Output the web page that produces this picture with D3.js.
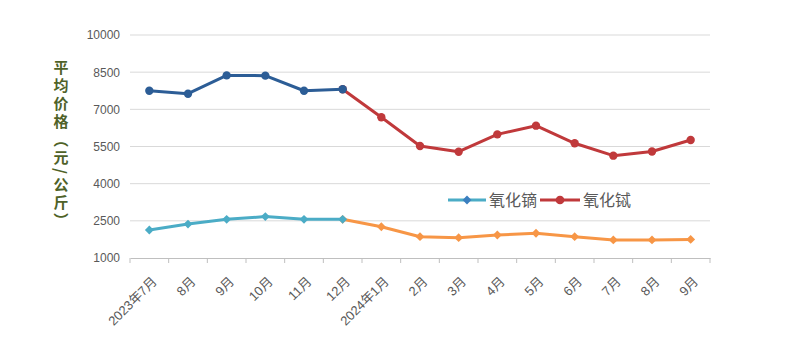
<!DOCTYPE html>
<html><head><meta charset="utf-8">
<script src="https://cdn.jsdelivr.net/npm/d3@7"></script>
<style>body{margin:0;background:#fff}svg{display:block}</style>
</head><body>
<svg id="c" width="790" height="353"></svg>
<script>
const categories = ["2023年7月","8月","9月","10月","11月","12月","2024年1月","2月","3月","4月","5月","6月","7月","8月","9月"];
const terbium2023 = [7750, 7630, 8370, 8360, 7750, 7810];
const terbium2024 = [7810, 6680, 5520, 5290, 5990, 6340, 5630, 5130, 5300, 5760];
const dysprosium2023 = [2130, 2370, 2560, 2670, 2560, 2560];
const dysprosium2024 = [2560, 2260, 1860, 1820, 1930, 2000, 1860, 1730, 1730, 1750];
const yTicks = [1000, 2500, 4000, 5500, 7000, 8500, 10000];
const legendNames = ["氧化镝", "氧化铽"];
const yTitle = "平均价格（元/公斤）";

const svg = d3.select("#c");
const font = "'Liberation Sans','Noto Sans CJK SC',sans-serif";
const L = 130, R = 710, T = 35, B = 258;
const idx = categories.map((d, i) => i);
const x = d3.scaleBand().domain(idx).range([L, R]);
const cx = i => x(i) + x.bandwidth() / 2;
const y = d3.scaleLinear().domain([1000, 10000]).range([B, T]);

// gridlines
svg.append("g").selectAll("line").data(yTicks.slice(1)).join("line")
  .attr("x1", L).attr("x2", R).attr("y1", d => y(d)).attr("y2", d => y(d))
  .attr("stroke", "#d9d9d9").attr("stroke-width", 1);

// y axis labels
const ya = svg.append("g").attr("transform", `translate(${L},0)`)
  .call(d3.axisLeft(y).tickValues(yTicks).tickSize(0).tickPadding(10).tickFormat(d3.format("d")));
ya.select(".domain").remove();
ya.selectAll("text").attr("font-family", font).attr("font-size", 12).attr("fill", "#595959");

// x axis
const xa = svg.append("g").attr("transform", `translate(0,${B})`)
  .call(d3.axisBottom(x).tickSize(0).tickFormat(i => categories[i]));
xa.select(".domain").attr("stroke", "#bfbfbf");
xa.selectAll("text").attr("font-family", font).attr("font-size", 13).attr("fill", "#595959")
  .attr("text-anchor", "end").attr("transform", "translate(3,19) rotate(-45)").attr("dy", "0.35em").attr("dx", "0");
// category boundary ticks
const bounds = idx.map(i => x(i)).concat([R]);
svg.append("g").selectAll("line").data(bounds).join("line")
  .attr("x1", d => d).attr("x2", d => d).attr("y1", B).attr("y2", B + 5)
  .attr("stroke", "#bfbfbf");

// y title
svg.append("text").attr("x", 61).attr("y", 60)
  .attr("font-family", "'Noto Sans CJK SC',sans-serif").attr("font-size", 15).attr("font-weight", "bold")
  .attr("fill", "#4f6228").style("writing-mode", "vertical-rl").style("letter-spacing", "3px")
  .text(yTitle);

const line = d3.line().x(d => cx(d[0])).y(d => y(d[1]));
function series(vals, offset, color, marker) {
  const pts = vals.map((v, i) => [i + offset, v]);
  svg.append("path").datum(pts).attr("d", line).attr("fill", "none")
    .attr("stroke", color).attr("stroke-width", 3).attr("stroke-linejoin", "round");
  const sym = d3.symbol().type(marker === "diamond" ? d3.symbolDiamond2 : d3.symbolCircle)
    .size(marker === "diamond" ? 50 : 55);
  svg.append("g").selectAll("path").data(pts).join("path")
    .attr("transform", d => `translate(${cx(d[0])},${y(d[1])})`)
    .attr("d", sym).attr("fill", color);
}
series(dysprosium2024, 5, "#f79646", "diamond");
series(dysprosium2023, 0, "#4bacc6", "diamond");
series(terbium2024, 5, "#c0393b", "circle");
series(terbium2023, 0, "#2c5d96", "circle");

// legend
const lg = svg.append("g").attr("transform", "translate(448,200)");
lg.append("line").attr("x1", 0).attr("x2", 38).attr("stroke", "#4bacc6").attr("stroke-width", 3);
lg.append("path").attr("transform", "translate(19,0)").attr("d", d3.symbol().type(d3.symbolDiamond2).size(50)).attr("fill", "#3b7fbf");
lg.append("text").attr("x", 41).attr("y", 0).attr("dy", "0.35em").attr("font-family", font)
  .attr("font-size", 16).attr("fill", "#595959").text(legendNames[0]);
lg.append("line").attr("x1", 92).attr("x2", 132).attr("stroke", "#c0393b").attr("stroke-width", 3);
lg.append("path").attr("transform", "translate(112,0)").attr("d", d3.symbol().type(d3.symbolCircle).size(60)).attr("fill", "#c0393b");
lg.append("text").attr("x", 135).attr("y", 0).attr("dy", "0.35em").attr("font-family", font)
  .attr("font-size", 16).attr("fill", "#595959").text(legendNames[1]);
</script>
</body></html>
